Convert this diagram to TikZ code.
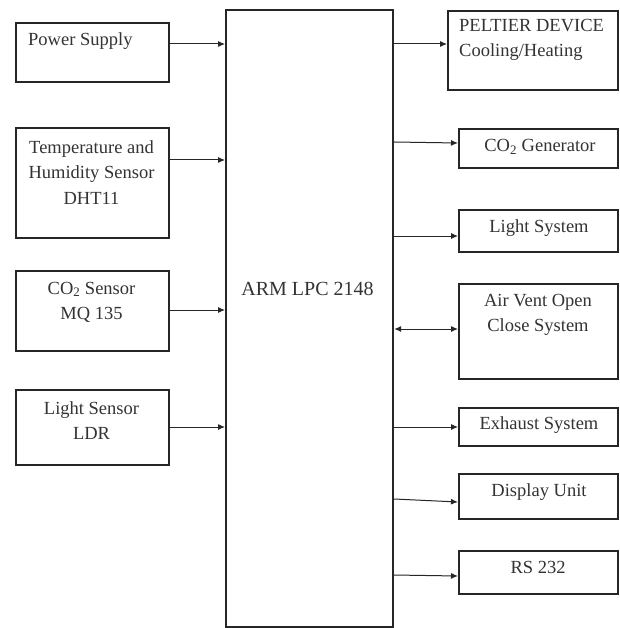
\documentclass[tikz,border=0pt]{standalone}
\usepackage{fontspec}
\setmainfont{Liberation Serif}
\usetikzlibrary{arrows.meta}
\begin{document}
\begin{tikzpicture}[x=1pt,y=-1pt,
  box/.style={draw=black!85, line width=2.2pt, inner sep=0pt, anchor=north west},
  lbl/.style={font=\fontsize{18.5}{25.5}\selectfont, text=black!80, inner sep=0pt, align=center},
  conn/.style={line width=1pt, draw=black!85, -{Latex[length=7pt,width=6pt]}},
  conn2/.style={line width=1pt, draw=black!85, {Latex[length=7pt,width=6pt]}-{Latex[length=7pt,width=6pt]}}]
\useasboundingbox (0,0) rectangle (619,628);
\fill[white] (0,0) rectangle (619,628);
% central block
\node[box, minimum width=167pt, minimum height=617pt] (arm) at (225,9) {};
\node[lbl, font=\fontsize{20}{24}\selectfont] (armT) at (307.5,289) {ARM LPC 2148};
% left boxes
\node[box, minimum width=153pt, minimum height=59pt] (pow) at (15,22) {};
\node[lbl, anchor=west] (powT) at (28,41) {Power Supply};
\node[box, minimum width=153pt, minimum height=110pt] (tmp) at (15,127) {};
\node[lbl] (tmpT) at (91.5,172.5) {Temperature and\\Humidity Sensor\\DHT11};
\node[box, minimum width=153pt, minimum height=80pt] (co2s) at (15,270) {};
\node[lbl] (co2sT) at (91.5,302.5) {CO\textsubscript{2} Sensor\\MQ 135};
\node[box, minimum width=153pt, minimum height=75pt] (ldr) at (15,389) {};
\node[lbl] (ldrT) at (91.5,420.5) {Light Sensor\\LDR};
% right boxes
\node[box, minimum width=170pt, minimum height=79pt] (pel) at (447,10) {};
\node[lbl, align=left, anchor=north west] (pelT) at (459,19) {PELTIER DEVICE\\Cooling/Heating};
\node[box, minimum width=159pt, minimum height=39pt] (gen) at (458,128) {};
\node[lbl] (genT) at (540,147) {CO\textsubscript{2} Generator};
\node[box, minimum width=159pt, minimum height=42pt] (lsys) at (458,209) {};
\node[lbl] (lsysT) at (539,228) {Light System};
\node[box, minimum width=159pt, minimum height=95pt] (vent) at (458,283) {};
\node[lbl] (ventT) at (538,315) {Air Vent Open\\Close System};
\node[box, minimum width=159pt, minimum height=38pt] (exh) at (458,407) {};
\node[lbl] (exhT) at (539,425) {Exhaust System};
\node[box, minimum width=159pt, minimum height=45pt] (disp) at (458,473) {};
\node[lbl] (dispT) at (539,492) {Display Unit};
\node[box, minimum width=159pt, minimum height=43pt] (rs) at (458,550) {};
\node[lbl] (rsT) at (538,567) {RS 232};
% connectors in
\draw[conn] (pow.east |- 0,44) -- (arm.west |- 0,44);
\draw[conn] (tmp.east |- 0,160) -- (arm.west |- 0,160);
\draw[conn] (co2s.east |- 0,310) -- (arm.west |- 0,310);
\draw[conn] (ldr.east |- 0,427) -- (arm.west |- 0,427);
% connectors out
\draw[conn] (arm.east |- 0,44) -- (pel.west |- 0,44);
\draw[conn] (arm.east |- 0,142) -- (gen.west |- 0,143);
\draw[conn] (arm.east |- 0,236) -- (lsys.west |- 0,236);
\draw[conn2] (arm.east |- 0,329) -- (vent.west |- 0,329);
\draw[conn] (arm.east |- 0,427) -- (exh.west |- 0,427);
\draw[conn] (arm.east |- 0,499) -- (disp.west |- 0,502);
\draw[conn] (arm.east |- 0,575) -- (rs.west |- 0,576);
\end{tikzpicture}
\end{document}
